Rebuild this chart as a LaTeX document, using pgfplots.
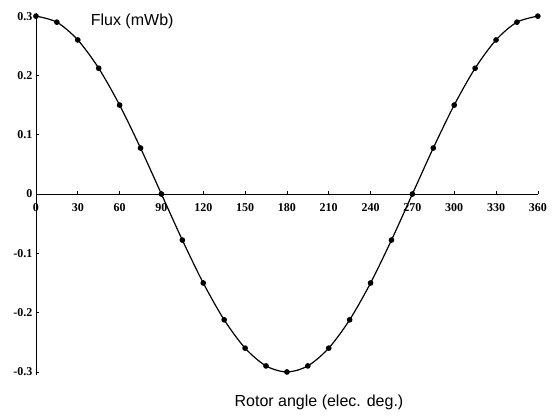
\documentclass[border=0pt]{standalone}
\usepackage{fontspec}
\setmainfont{Liberation Serif}
\newfontfamily\labelfont{Liberation Sans}
\usepackage{pgfplots}
\pgfplotsset{compat=1.18}
\begin{document}
\begin{tikzpicture}
\begin{axis}[
  scale only axis,
  width=501.8pt, height=361.7pt,
  xmin=0, xmax=360, ymin=-0.305, ymax=0.305,
  axis lines=middle,
  axis line style={-, line width=0.8pt},
  clip=false,
  xtick={0,30,...,360},
  ytick={-0.3,-0.2,-0.1,0,0.1,0.2,0.3},
  yticklabels={-0.3,-0.2,-0.1,0,0.1,0.2,0.3},
  xticklabels={0,30,60,90,120,150,180,210,240,270,300,330,360},
  hide obscured x ticks=false, hide obscured y ticks=false,
  tick align=inside,
  major tick length=3pt,
  tick style={line width=0.6pt, black},
  ticklabel style={font=\bfseries\fontsize{12}{14}\selectfont},
  xticklabel style={yshift=-6pt},
  yticklabel style={xshift=0pt},
]
\addplot[black, line width=1.2pt, smooth, mark=*, mark size=2.2pt] coordinates {
(0,0.3) (15,0.2898) (30,0.2598) (45,0.2121) (60,0.15) (75,0.0776)
(90,0) (105,-0.0776) (120,-0.15) (135,-0.2121) (150,-0.2598) (165,-0.2898)
(180,-0.3) (195,-0.2898) (210,-0.2598) (225,-0.2121) (240,-0.15) (255,-0.0776)
(270,0) (285,0.0776) (300,0.15) (315,0.2121) (330,0.2598) (345,0.2898) (360,0.3)
};
\node[font=\labelfont\fontsize{16}{18}\selectfont] at (axis cs:69,0.292) {Flux (mWb)};
\node[font=\labelfont\fontsize{16}{18}\selectfont] at (axis cs:203,-0.351) {Rotor angle (elec. deg.)};
\coordinate (bl) at (axis cs:-25.8,-0.3744);
\coordinate (tr) at (axis cs:372.3,0.3272);
\end{axis}
\pgfresetboundingbox
\useasboundingbox (bl) rectangle (tr);
\end{tikzpicture}
\end{document}
